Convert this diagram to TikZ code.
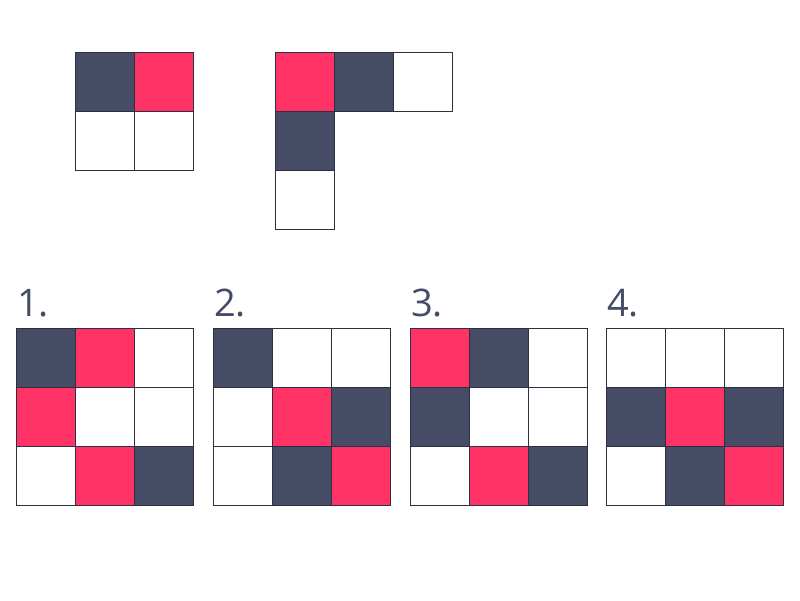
\documentclass[tikz,border=0pt]{standalone}
\usepackage{fontspec}
\setmainfont{Open Sans}
\definecolor{dk}{HTML}{474C66}
\definecolor{rd}{HTML}{FF3366}
\definecolor{ln}{HTML}{2E3040}
\definecolor{tx}{HTML}{474C66}
\tikzset{
  cell/.style={draw=ln, line width=0.9pt},
  lbl/.style={anchor=base west, inner sep=0pt, text=tx, font=\fontsize{38}{40}\selectfont}
}
% \cellat{x}{y}{color}
\newcommand{\cellat}[3]{\filldraw[cell, fill=#3] (#1,#2) rectangle ++(59,59);}
\begin{document}
\begin{tikzpicture}[x=1pt,y=-1pt]
\fill[white] (0,0) rectangle (800,600);
\useasboundingbox (0,0) rectangle (800,600);
% top-left 2x2
\cellat{75}{52}{dk}\cellat{134}{52}{rd}
\cellat{75}{111}{white}\cellat{134}{111}{white}
% top L-shape
\cellat{275}{52}{rd}\cellat{334}{52}{dk}\cellat{393}{52}{white}
\cellat{275}{111}{dk}
\cellat{275}{170}{white}
% grids
\foreach \gx/\cols [count=\n] in {
  16/{dk,rd,white,rd,white,white,white,rd,dk},
  213/{dk,white,white,white,rd,dk,white,dk,rd},
  410/{rd,dk,white,dk,white,white,white,rd,dk},
  606/{white,white,white,dk,rd,dk,white,dk,rd}}{
  \node[lbl] (L\n) at (\gx+1,316) {\n.};
  \foreach \c [count=\i from 0] in \cols {
    \pgfmathtruncatemacro{\r}{div(\i,3)}
    \pgfmathtruncatemacro{\k}{mod(\i,3)}
    \filldraw[cell, fill=\c] (\gx+59*\k,328+59*\r) rectangle ++(59,59);
  }
}
\end{tikzpicture}
\end{document}
